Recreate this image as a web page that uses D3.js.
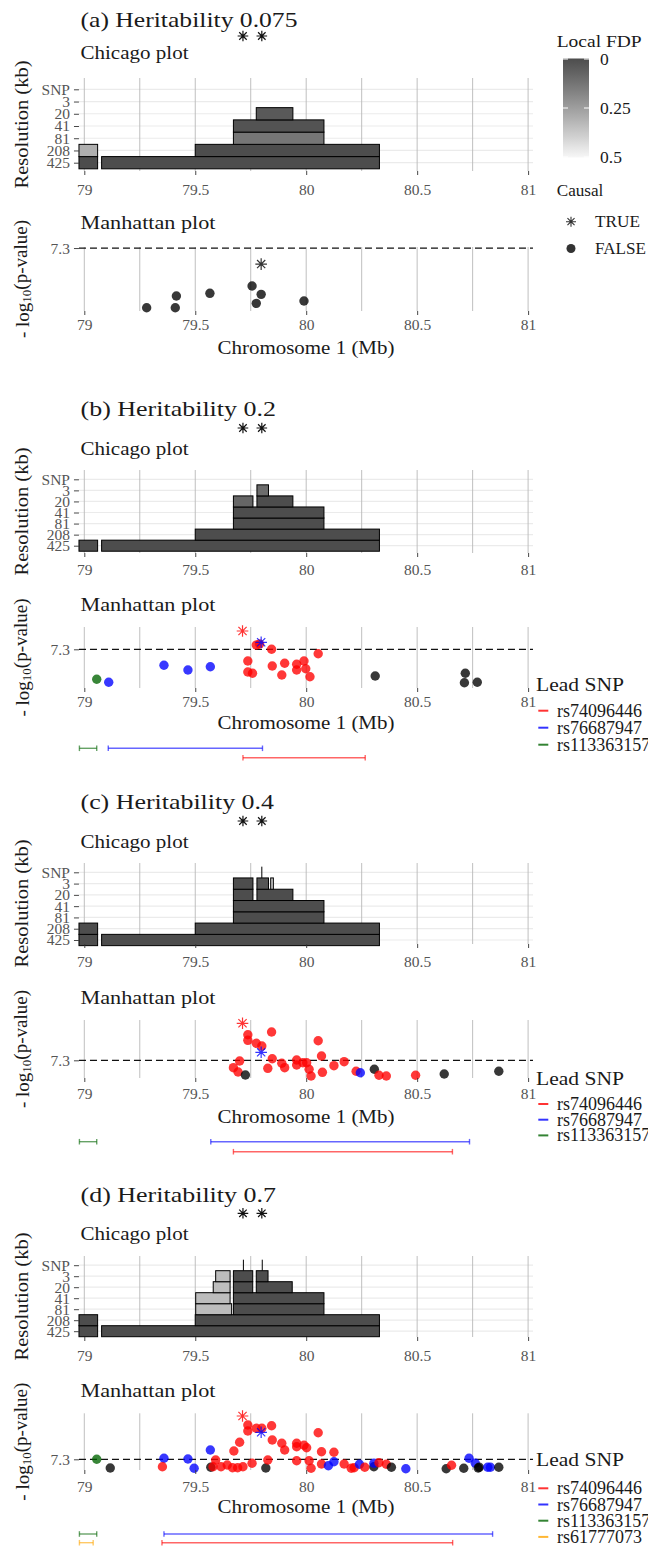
<!DOCTYPE html>
<html>
<head>
<meta charset="utf-8">
<script src="https://cdn.jsdelivr.net/npm/d3@7"></script>
<style>
  body { margin: 0; background: #fff; }
</style>
</head>
<body>
<div id="chart"></div>
<script>
// ------------------------------- DATA -------------------------------
const resLevels = ["SNP", "3", "20", "41", "81", "208", "425"];
const xTicks = [79, 79.5, 80, 80.5, 81];
const xGrid = [79, 79.25, 79.5, 79.75, 80, 80.25, 80.5, 80.75, 81];
const causalSNPs = [79.715, 79.8];
const leadSNPs = ["rs74096446", "rs76687947", "rs113363157", "rs61777073"];
const leadColours = ["#ff0000", "#0000ff", "#006400", "#ffa500"];
const titles = ["(a) Heritability 0.075", "(b) Heritability 0.2", "(c) Heritability 0.4", "(d) Heritability 0.7"];
const fdpTicks = [0, 0.25, 0.5];
const genomeLine = 7.3;

// chicago blocks: [resolution, start (Mb), end (Mb), local FDP]
const chicagoA = [
  ["425", 78.976, 79.06, 0], ["425", 79.078, 80.33, 0],
  ["208", 78.976, 79.06, 0.3], ["208", 79.5, 80.33, 0],
  ["81", 79.672, 80.08, 0.13], ["41", 79.672, 80.08, 0.02],
  ["20", 79.775, 79.94, 0.04]
];
const chicagoB = [
  ["425", 78.976, 79.06, 0], ["425", 79.078, 80.33, 0],
  ["208", 79.5, 80.33, 0],
  ["81", 79.672, 80.08, 0], ["41", 79.672, 80.08, 0],
  ["20", 79.672, 79.76, 0.08], ["20", 79.778, 79.94, 0],
  ["3", 79.778, 79.83, 0.1]
];
const chicagoC = [
  ["425", 78.976, 79.06, 0], ["425", 79.078, 80.33, 0],
  ["208", 78.976, 79.06, 0], ["208", 79.5, 80.33, 0],
  ["81", 79.672, 80.08, 0], ["41", 79.672, 80.08, 0],
  ["20", 79.672, 79.76, 0], ["20", 79.778, 79.94, 0],
  ["3", 79.672, 79.76, 0], ["3", 79.778, 79.83, 0.03], ["3", 79.84, 79.852, 0.38],
  ["SNP", 79.8, 79.8, 0]
];
const chicagoD = [
  ["425", 78.976, 79.06, 0], ["425", 79.078, 80.33, 0],
  ["208", 78.976, 79.06, 0], ["208", 79.5, 80.33, 0],
  ["81", 79.502, 79.664, 0.34], ["81", 79.672, 80.08, 0],
  ["41", 79.502, 79.657, 0.34], ["41", 79.672, 80.08, 0],
  ["20", 79.581, 79.657, 0.34], ["20", 79.672, 79.759, 0], ["20", 79.775, 79.937, 0],
  ["3", 79.592, 79.657, 0.34], ["3", 79.672, 79.759, 0], ["3", 79.775, 79.828, 0],
  ["SNP", 79.717, 79.717, 0], ["SNP", 79.802, 79.802, 0]
];

// manhattan points: [position (Mb), -log10(p), lead SNP index (-1 none), causal]
const manhattanA = [
  [79.281, 3.32, -1, 0], [79.41, 3.32, -1, 0], [79.415, 4.10, -1, 0], [79.566, 4.28, -1, 0],
  [79.756, 4.77, -1, 0], [79.775, 3.61, -1, 0], [79.797, 4.21, -1, 0], [79.99, 3.77, -1, 0],
  [79.797, 6.23, -1, 1]
];
const manhattanB = [
  [79.056, 4.30, 2, 0], [79.11, 4.00, 1, 0], [79.359, 5.70, 1, 0], [79.467, 5.23, 1, 0],
  [79.568, 5.56, 1, 0], [79.737, 6.13, 0, 0], [79.737, 5.03, 0, 0], [79.758, 4.90, 0, 0],
  [79.775, 7.73, 0, 0], [79.79, 7.83, 0, 0], [79.844, 7.30, 0, 0], [79.847, 5.63, 0, 0],
  [79.89, 4.73, 0, 0], [79.903, 5.90, 0, 0], [79.957, 5.80, 0, 0], [79.957, 5.23, 0, 0],
  [79.99, 6.13, 0, 0], [79.998, 5.36, 0, 0], [80.017, 4.56, 0, 0], [80.054, 6.86, 0, 0],
  [80.311, 4.63, -1, 0], [80.717, 4.90, -1, 0], [80.713, 3.96, -1, 0], [80.771, 4.00, -1, 0],
  [79.713, 9.13, 0, 1], [79.797, 8.00, 1, 1]
];
const manhattanC = [
  [79.737, 10.50, 0, 0], [79.737, 9.80, 0, 0], [79.844, 10.84, 0, 0], [80.054, 9.75, 0, 0],
  [79.775, 9.43, 0, 0], [79.80, 9.09, 0, 0], [79.847, 7.50, 0, 0], [79.70, 7.21, 0, 0],
  [79.672, 6.38, 0, 0], [79.693, 5.84, 0, 0], [79.726, 5.46, -1, 0], [79.827, 6.30, 0, 0],
  [79.89, 6.93, 0, 0], [79.903, 6.38, 0, 0], [79.957, 7.34, 0, 0], [79.957, 6.71, 0, 0],
  [79.985, 7.00, 0, 0], [80.002, 7.00, 0, 0], [80.013, 6.18, 0, 0], [80.022, 5.34, 0, 0],
  [80.069, 7.84, 0, 0], [80.073, 5.80, 0, 0], [80.125, 6.63, 0, 0], [80.171, 7.13, 0, 0],
  [80.225, 5.93, 0, 0], [80.244, 5.75, 1, 0], [80.307, 6.18, -1, 0], [80.328, 5.43, 0, 0],
  [80.361, 5.34, 0, 0], [80.493, 5.43, 0, 0], [80.622, 5.59, -1, 0], [80.868, 5.93, -1, 0],
  [79.713, 11.93, 0, 1], [79.797, 8.30, 1, 1]
];
const manhattanD = [
  [79.737, 14.16, 0, 0], [79.737, 12.96, 0, 0], [79.775, 13.50, 0, 0], [79.80, 13.50, 0, 0],
  [79.844, 14.02, 0, 0], [79.847, 11.16, 0, 0], [80.054, 12.62, 0, 0], [79.89, 10.50, 0, 0],
  [79.903, 9.16, 0, 0], [79.957, 10.50, 0, 0], [79.957, 9.82, 0, 0], [79.99, 10.10, 0, 0],
  [80.002, 9.62, 0, 0], [79.70, 10.70, 0, 0], [79.674, 8.96, 0, 0], [80.069, 8.82, 0, 0],
  [80.125, 8.70, 0, 0], [79.568, 9.16, 1, 0], [79.359, 7.50, 1, 0], [79.467, 7.36, 1, 0],
  [79.056, 7.30, 2, 0], [79.117, 5.56, -1, 0], [79.352, 5.82, 0, 0], [79.495, 5.50, 1, 0],
  [79.57, 5.70, -1, 0], [79.58, 5.82, 0, 0], [79.592, 7.16, 0, 0], [79.616, 5.82, 0, 0],
  [79.644, 6.16, 0, 0], [79.668, 5.62, 0, 0], [79.691, 5.62, 0, 0], [79.715, 5.82, 0, 0],
  [79.756, 6.50, 0, 0], [79.818, 5.56, -1, 0], [79.827, 7.16, 0, 0], [79.957, 7.02, 0, 0],
  [80.013, 7.02, 0, 0], [80.022, 5.50, 0, 0], [80.069, 6.36, 0, 0], [80.10, 6.02, 1, 0],
  [80.125, 6.82, 1, 0], [80.171, 6.36, 0, 0], [80.203, 5.50, 0, 0], [80.216, 5.62, 0, 0],
  [80.24, 6.30, 1, 0], [80.264, 5.70, 0, 0], [80.305, 5.82, -1, 0], [80.305, 6.50, 1, 0],
  [80.328, 6.62, 0, 0], [80.361, 6.30, 0, 0], [80.384, 5.70, -1, 0], [80.449, 5.42, 1, 0],
  [80.631, 5.42, -1, 0], [80.655, 6.10, 0, 0], [80.71, 5.50, -1, 0], [80.734, 7.50, 1, 0],
  [80.762, 6.50, 1, 0], [80.775, 5.56, -1, 0], [80.78, 5.70, -1, 0], [80.818, 5.70, 1, 0],
  [80.83, 5.70, 1, 0], [80.868, 5.70, -1, 0],
  [79.713, 15.96, 0, 1], [79.797, 12.70, 1, 1]
];

// lead SNP regions: [lead SNP index, start (Mb), end (Mb), row]
const regionsB = [[2, 78.978, 79.056, 0], [1, 79.108, 79.803, 0], [0, 79.715, 80.266, 1]];
const regionsC = [[2, 78.978, 79.056, 0], [1, 79.57, 80.736, 0], [0, 79.672, 80.659, 1]];
const regionsD = [[2, 78.978, 79.056, 0], [1, 79.359, 80.84, 0], [3, 78.978, 79.04, 1], [0, 79.35, 80.66, 1]];

const chicagoData = [chicagoA, chicagoB, chicagoC, chicagoD];
const manhattanData = [manhattanA, manhattanB, manhattanC, manhattanD];
const regionData = [[], regionsB, regionsC, regionsD];
const leadCounts = [0, 3, 3, 4];

// ------------------------------ LAYOUT ------------------------------
const W = 648, H = 1549;
const FONT = "'Liberation Serif', serif";
const titleLen = [217, 195.5, 193.5, 195.5];
const blocks = [
  {tY: 26.5, starY: 36, chiSubY: 59, chiTop: 78, chiBot: 171, row0: 89.3, row1: 162.7, chiLabY: 190,
   manSubY: 229, manTop: 247, manBot: 311, yDom: [3.1, 7.37], manLabY: 325, xlabY: 348, segY: [], legY: 0, legFirst: 0, legStep: 0},
  {tY: 416, starY: 428, chiSubY: 455, chiTop: 470, chiBot: 553, row0: 479.3, row1: 545.7, chiLabY: 570,
   manSubY: 611, manTop: 627, manBot: 688, yDom: [3.43, 9.53], manLabY: 702, xlabY: 723, segY: [748.3, 757.7], legY: 685, legFirst: 710.7, legStep: 17},
  {tY: 809, starY: 821, chiSubY: 848, chiTop: 863, chiBot: 944, row0: 872.3, row1: 940, chiLabY: 962,
   manSubY: 1004, manTop: 1020, manBot: 1078, yDom: [5.09, 12.34], manLabY: 1094, xlabY: 1117, segY: [1141.7, 1151.7], legY: 1079, legFirst: 1104, legStep: 15.7},
  {tY: 1201.7, starY: 1213.3, chiSubY: 1240, chiTop: 1256, chiBot: 1337, row0: 1265.2, row1: 1331.2, chiLabY: 1356,
   manSubY: 1397, manTop: 1413.3, manBot: 1470, yDom: [5.16, 16.5], manLabY: 1486.7, xlabY: 1506.7, segY: [1534, 1542.7], legY: 1460, legFirst: 1488.3, legStep: 16.2}
];

const svg = d3.select("#chart").append("svg")
  .attr("width", W).attr("height", H)
  .style("display", "block");

const x = d3.scaleLinear().domain([79, 81]).range([84.3, 528.1]);
const panelL = x(78.976), panelR = x(81.022);
const fdpColour = d3.scaleLinear().domain([0, 0.5])
  .range(["#4d4d4d", "#f7f7f7"]).interpolate(d3.interpolateLab);

function txt(sel, s, px, py, size, o) {
  o = o || {};
  const t = sel.append("text")
    .attr("x", px).attr("y", py)
    .style("font-family", FONT)
    .style("font-size", size + "px")
    .attr("fill", o.fill || "#1a1a1a")
    .attr("text-anchor", o.anchor || "start")
    .text(s);
  if (o.central) t.attr("dominant-baseline", "central");
  if (o.len) t.attr("textLength", o.len).attr("lengthAdjust", "spacingAndGlyphs");
  return t;
}

function starPath(cx, cy, r) {
  const d = r * Math.SQRT1_2;
  return "M" + (cx - r) + "," + cy + "L" + (cx + r) + "," + cy +
    "M" + cx + "," + (cy - r) + "L" + cx + "," + (cy + r) +
    "M" + (cx - d) + "," + (cy - d) + "L" + (cx + d) + "," + (cy + d) +
    "M" + (cx - d) + "," + (cy + d) + "L" + (cx + d) + "," + (cy - d);
}

function styleTicks(ax) {
  ax.select(".domain").remove();
  ax.selectAll(".tick line").attr("stroke", "#333").attr("stroke-width", 0.9);
  ax.selectAll(".tick text").attr("fill", "#555")
    .style("font-family", FONT).style("font-size", "15.5px");
}

function xAxis(g, bot, labY) {
  const ax = g.append("g")
    .attr("transform", "translate(0," + bot + ")")
    .call(d3.axisBottom(x).tickValues(xTicks).tickSize(4).tickFormat(d3.format("")));
  styleTicks(ax);
  ax.selectAll(".tick text").attr("y", labY - bot).attr("dy", "0.35em");
}

function vGrid(g, top, bot) {
  g.append("g").selectAll("line").data(xGrid).enter().append("line")
    .attr("x1", d => x(d)).attr("x2", d => x(d))
    .attr("y1", top).attr("y2", bot)
    .attr("stroke", "#b8b8b8").attr("stroke-width", 0.9);
}

blocks.forEach(function (b, i) {
  const g = svg.append("g");

  // ---------------- titles ----------------
  txt(g, titles[i], 80.5, b.tY, 22, {len: titleLen[i]});
  g.append("g").selectAll("path").data(causalSNPs).enter().append("path")
    .attr("d", d => starPath(x(d), b.starY, 5.3))
    .attr("stroke", "#111").attr("stroke-width", 1.2).attr("fill", "none");

  // ---------------- chicago plot ----------------
  txt(g, "Chicago plot", 80.5, b.chiSubY, 18, {len: 108});
  const yRes = d3.scalePoint().domain(resLevels).range([b.row0, b.row1]);
  const step = yRes.step();

  g.append("g").selectAll("line").data(resLevels).enter().append("line")
    .attr("x1", panelL).attr("x2", panelR)
    .attr("y1", d => yRes(d)).attr("y2", d => yRes(d))
    .attr("stroke", "#ebebeb").attr("stroke-width", 1.2);
  vGrid(g, b.chiTop, b.chiBot);

  const blocksData = chicagoData[i];
  g.append("g").selectAll("rect").data(blocksData.filter(d => d[2] > d[1])).enter().append("rect")
    .attr("x", d => x(d[1]))
    .attr("width", d => x(d[2]) - x(d[1]))
    .attr("y", d => yRes(d[0]) - step / 2)
    .attr("height", step)
    .attr("fill", d => fdpColour(d[3]))
    .attr("stroke", "#000").attr("stroke-width", 1);
  g.append("g").selectAll("line").data(blocksData.filter(d => d[2] <= d[1])).enter().append("line")
    .attr("x1", d => x(d[1])).attr("x2", d => x(d[1]))
    .attr("y1", d => yRes(d[0]) - step / 2).attr("y2", d => yRes(d[0]) + step / 2)
    .attr("stroke", "#000").attr("stroke-width", 1);

  const ay = g.append("g").attr("transform", "translate(" + panelL + ",0)")
    .call(d3.axisLeft(yRes).tickSize(5).tickPadding(4));
  styleTicks(ay);

  xAxis(g, b.chiBot, b.chiLabY);

  txt(g, "Resolution (kb)", 0, 0, 18, {anchor: "middle", central: true, len: 128})
    .attr("transform", "translate(22," + ((b.chiTop + b.chiBot) / 2) + ") rotate(-90)");

  // ---------------- manhattan plot ----------------
  txt(g, "Manhattan plot", 80.5, b.manSubY, 18, {len: 135});
  const yP = d3.scaleLinear().domain(b.yDom).range([b.manBot, b.manTop]);

  vGrid(g, b.manTop, b.manBot);
  g.append("line")
    .attr("x1", panelL).attr("x2", panelR)
    .attr("y1", yP(genomeLine)).attr("y2", yP(genomeLine))
    .attr("stroke", "#111").attr("stroke-width", 1.3).attr("stroke-dasharray", "7,4");

  const ayM = g.append("g").attr("transform", "translate(" + panelL + ",0)")
    .call(d3.axisLeft(yP).tickValues([genomeLine]).tickSize(5).tickPadding(4).tickFormat(d3.format(".1f")));
  styleTicks(ayM);

  const pts = manhattanData[i];
  const colourOf = d => d[2] < 0 ? "#000" : leadColours[d[2]];
  g.append("g").selectAll("circle").data(pts.filter(d => !d[3])).enter().append("circle")
    .attr("cx", d => x(d[0])).attr("cy", d => yP(d[1])).attr("r", 4.7)
    .attr("fill", colourOf).attr("fill-opacity", 0.78);
  g.append("g").selectAll("path").data(pts.filter(d => d[3])).enter().append("path")
    .attr("d", d => starPath(x(d[0]), yP(d[1]), 5.8))
    .attr("stroke", colourOf).attr("stroke-opacity", 0.8).attr("stroke-width", 1.2).attr("fill", "none");

  xAxis(g, b.manBot, b.manLabY);
  txt(g, "Chromosome 1 (Mb)", (panelL + panelR) / 2, b.xlabY, 18, {anchor: "middle", central: true, len: 177});

  const yl = g.append("text")
    .attr("transform", "translate(22," + ((b.manTop + b.manBot) / 2) + ") rotate(-90)")
    .attr("text-anchor", "middle").attr("dominant-baseline", "central")
    .attr("fill", "#1a1a1a").style("font-family", FONT).style("font-size", "19px");
  yl.append("tspan").text("- log");
  yl.append("tspan").attr("dy", "0.3em").style("font-size", "13px").text("10");
  yl.append("tspan").attr("dy", "-0.3em").text("(p-value)");

  // ---------------- lead SNP regions ----------------
  const regs = regionData[i];
  const rg = g.append("g").attr("stroke-opacity", 0.6).attr("stroke-width", 1.4);
  regs.forEach(function (r) {
    const yy = b.segY[r[3]], c = leadColours[r[0]];
    rg.append("line").attr("x1", x(r[1])).attr("x2", x(r[2])).attr("y1", yy).attr("y2", yy).attr("stroke", c);
    [r[1], r[2]].forEach(v => rg.append("line")
      .attr("x1", x(v)).attr("x2", x(v)).attr("y1", yy - 2.8).attr("y2", yy + 2.8).attr("stroke", c));
  });

  // ---------------- lead SNP legend ----------------
  if (leadCounts[i] > 0) {
    txt(g, "Lead SNP", 536, b.legY, 18, {central: true, len: 88});
    d3.range(leadCounts[i]).forEach(function (k) {
      const yy = b.legFirst + k * b.legStep;
      g.append("line").attr("x1", 538.3).attr("x2", 548.3).attr("y1", yy).attr("y2", yy)
        .attr("stroke", leadColours[k]).attr("stroke-opacity", 0.8).attr("stroke-width", 2);
      txt(g, leadSNPs[k], 557, yy, 18, {central: true});
    });
  }
});

// ---------------- local FDP + causal legend (panel a) ----------------
const lg = svg.append("g");
const defs = svg.append("defs");
const grad = defs.append("linearGradient").attr("id", "fdpGrad")
  .attr("x1", 0).attr("x2", 0).attr("y1", 0).attr("y2", 1);
d3.range(0, 1.0001, 0.1).forEach(t => grad.append("stop")
  .attr("offset", t).attr("stop-color", fdpColour(t * 0.5)));

const yF = d3.scaleLinear().domain([0, 0.5]).range([59, 157]);
txt(lg, "Local FDP", 556.7, 46.5, 17, {len: 85});
lg.append("rect").attr("x", 563).attr("y", yF(0) - 0.5).attr("width", 26).attr("height", yF(0.5) - yF(0) + 1)
  .attr("fill", "url(#fdpGrad)");
fdpTicks.forEach(function (v) {
  [[563, 568], [584, 589]].forEach(s => lg.append("line")
    .attr("x1", s[0]).attr("x2", s[1]).attr("y1", yF(v)).attr("y2", yF(v))
    .attr("stroke", "#fff").attr("stroke-width", 1));
  txt(lg, String(v), 600, yF(v), 17.5, {central: true});
});

txt(lg, "Causal", 556.7, 195.5, 17, {len: 46.7});
lg.append("path").attr("d", starPath(571, 221.7, 5))
  .attr("stroke", "#333").attr("stroke-width", 1.1).attr("fill", "none");
txt(lg, "TRUE", 595, 221.7, 17, {central: true, len: 45});
lg.append("circle").attr("cx", 571).attr("cy", 248.5).attr("r", 4.5).attr("fill", "#333");
txt(lg, "FALSE", 595, 248.5, 17, {central: true, len: 51});
</script>
</body>
</html>
